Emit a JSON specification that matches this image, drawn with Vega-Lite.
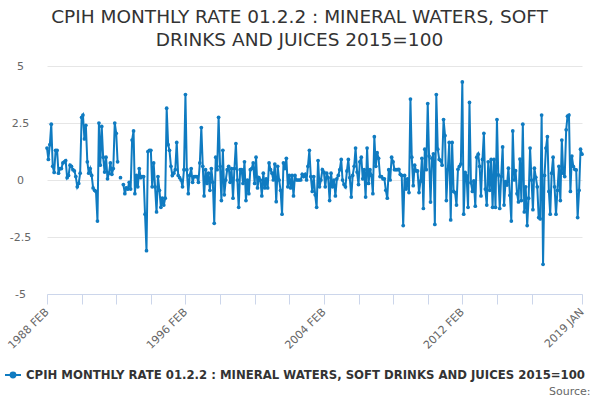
{
"$schema":"https://vega.github.io/schema/vega-lite/v6.json",
"width":535,"height":228,
"autosize":{"type":"none"},
"padding":{"left":47,"top":66,"right":18,"bottom":106},
"background":"white",
"title":{"text":["CPIH MONTHLY RATE 01.2.2 : MINERAL WATERS, SOFT","DRINKS AND JUICES 2015=100"],"font":"DejaVu Sans","fontSize":18.5,"fontWeight":"normal","color":"#333333","lineHeight":23,"anchor":"middle","frame":"group","dx":-15,"offset":11},
"config":{"view":{"stroke":null},"font":"DejaVu Sans"},
"data":{"values":[
{"date":"1988-02-01","value":1.4},{"date":"1988-03-01","value":0.9},{"date":"1988-04-01","value":1.55},{"date":"1988-05-01","value":2.45},{"date":"1988-06-01","value":0.6},{"date":"1988-07-01","value":0.33},{"date":"1988-08-01","value":1.3},{"date":"1988-09-01","value":1.3},{"date":"1988-10-01","value":0.3},{"date":"1988-11-01","value":0.5},{"date":"1988-12-01","value":0.5},
{"date":"1989-01-01","value":0.75},{"date":"1989-02-01","value":0.8},{"date":"1989-03-01","value":0.85},{"date":"1989-04-01","value":0.1},{"date":"1989-05-01","value":0.2},{"date":"1989-06-01","value":0.65},{"date":"1989-07-01","value":0.6},{"date":"1989-08-01","value":0.45},{"date":"1989-09-01","value":0.4},{"date":"1989-10-01","value":0.15},{"date":"1989-11-01","value":-0.3},{"date":"1989-12-01","value":-0.15},
{"date":"1990-01-01","value":0.3},{"date":"1990-02-01","value":2.75},{"date":"1990-03-01","value":2.85},{"date":"1990-04-01","value":1.8},{"date":"1990-05-01","value":2.4},{"date":"1990-06-01","value":0.8},{"date":"1990-07-01","value":0.3},{"date":"1990-08-01","value":0.5},{"date":"1990-09-01","value":0.2},{"date":"1990-10-01","value":-0.35},{"date":"1990-11-01","value":-0.45},{"date":"1990-12-01","value":-0.5},
{"date":"1991-01-01","value":-1.8},{"date":"1991-02-01","value":2.5},{"date":"1991-03-01","value":0.65},{"date":"1991-04-01","value":2.35},{"date":"1991-05-01","value":1.0},{"date":"1991-06-01","value":0.35},{"date":"1991-07-01","value":1.0},{"date":"1991-08-01","value":0.05},{"date":"1991-09-01","value":0.3},{"date":"1991-10-01","value":0.75},{"date":"1991-11-01","value":0.25},{"date":"1991-12-01","value":0.5},
{"date":"1992-01-01","value":2.5},{"date":"1992-02-01","value":2.05},{"date":"1992-03-01","value":0.8},{"date":"1992-04-01","value":null},{"date":"1992-05-01","value":0.1},{"date":"1992-06-01","value":null},{"date":"1992-07-01","value":-0.2},{"date":"1992-08-01","value":-0.6},{"date":"1992-09-01","value":-0.35},{"date":"1992-10-01","value":-0.4},{"date":"1992-11-01","value":-0.1},{"date":"1992-12-01","value":-0.4},
{"date":"1993-01-01","value":1.75},{"date":"1993-02-01","value":2.15},{"date":"1993-03-01","value":-0.6},{"date":"1993-04-01","value":0.2},{"date":"1993-05-01","value":-0.3},{"date":"1993-06-01","value":0.5},{"date":"1993-07-01","value":0.1},{"date":"1993-08-01","value":0.15},{"date":"1993-09-01","value":0.15},{"date":"1993-10-01","value":-1.5},{"date":"1993-11-01","value":-3.1},{"date":"1993-12-01","value":1.25},
{"date":"1994-01-01","value":1.3},{"date":"1994-02-01","value":1.3},{"date":"1994-03-01","value":-0.3},{"date":"1994-04-01","value":0.75},{"date":"1994-05-01","value":-0.3},{"date":"1994-06-01","value":-1.4},{"date":"1994-07-01","value":0.15},{"date":"1994-08-01","value":-0.45},{"date":"1994-09-01","value":-1.2},{"date":"1994-10-01","value":-0.8},{"date":"1994-11-01","value":-1.1},{"date":"1994-12-01","value":-0.8},
{"date":"1995-01-01","value":3.15},{"date":"1995-02-01","value":1.55},{"date":"1995-03-01","value":1.3},{"date":"1995-04-01","value":0.6},{"date":"1995-05-01","value":0.2},{"date":"1995-06-01","value":0.3},{"date":"1995-07-01","value":0.45},{"date":"1995-08-01","value":1.65},{"date":"1995-09-01","value":0.2},{"date":"1995-10-01","value":0.1},{"date":"1995-11-01","value":0.0},{"date":"1995-12-01","value":-0.3},
{"date":"1996-01-01","value":0.45},{"date":"1996-02-01","value":3.75},{"date":"1996-03-01","value":0.45},{"date":"1996-04-01","value":-0.6},{"date":"1996-05-01","value":0.2},{"date":"1996-06-01","value":0.5},{"date":"1996-07-01","value":-0.1},{"date":"1996-08-01","value":0.15},{"date":"1996-09-01","value":0.15},{"date":"1996-10-01","value":0.15},{"date":"1996-11-01","value":-0.1},{"date":"1996-12-01","value":0.75},
{"date":"1997-01-01","value":2.3},{"date":"1997-02-01","value":0.6},{"date":"1997-03-01","value":-0.7},{"date":"1997-04-01","value":0.45},{"date":"1997-05-01","value":-0.15},{"date":"1997-06-01","value":0.3},{"date":"1997-07-01","value":-0.45},{"date":"1997-08-01","value":0.5},{"date":"1997-09-01","value":-0.1},{"date":"1997-10-01","value":-1.9},{"date":"1997-11-01","value":1.0},{"date":"1997-12-01","value":0.45},
{"date":"1998-01-01","value":2.75},{"date":"1998-02-01","value":0.6},{"date":"1998-03-01","value":-0.9},{"date":"1998-04-01","value":1.3},{"date":"1998-05-01","value":-0.65},{"date":"1998-06-01","value":0},{"date":"1998-07-01","value":0.45},{"date":"1998-08-01","value":0.6},{"date":"1998-09-01","value":-0.1},{"date":"1998-10-01","value":0.5},{"date":"1998-11-01","value":-0.8},{"date":"1998-12-01","value":0.5},
{"date":"1999-01-01","value":1.6},{"date":"1999-02-01","value":0},{"date":"1999-03-01","value":-1.2},{"date":"1999-04-01","value":0.45},{"date":"1999-05-01","value":0.45},{"date":"1999-06-01","value":-0.15},{"date":"1999-07-01","value":0.8},{"date":"1999-08-01","value":-0.9},{"date":"1999-09-01","value":0},{"date":"1999-10-01","value":-0.6},{"date":"1999-11-01","value":0.45},{"date":"1999-12-01","value":0.5},
{"date":"2000-01-01","value":0.75},{"date":"2000-02-01","value":-0.15},{"date":"2000-03-01","value":1.0},{"date":"2000-04-01","value":-0.35},{"date":"2000-05-01","value":0.1},{"date":"2000-06-01","value":0},{"date":"2000-07-01","value":-0.7},{"date":"2000-08-01","value":0.3},{"date":"2000-09-01","value":-0.35},{"date":"2000-10-01","value":0.05},{"date":"2000-11-01","value":-0.35},{"date":"2000-12-01","value":0.75},
{"date":"2001-01-01","value":0.45},{"date":"2001-02-01","value":0.3},{"date":"2001-03-01","value":0},{"date":"2001-04-01","value":0.7},{"date":"2001-05-01","value":-0.95},{"date":"2001-06-01","value":0.6},{"date":"2001-07-01","value":0},{"date":"2001-08-01","value":-0.45},{"date":"2001-09-01","value":-1.5},{"date":"2001-10-01","value":0.75},{"date":"2001-11-01","value":0.5},{"date":"2001-12-01","value":0.95},
{"date":"2002-01-01","value":-0.3},{"date":"2002-02-01","value":0.2},{"date":"2002-03-01","value":-0.35},{"date":"2002-04-01","value":0.2},{"date":"2002-05-01","value":-0.7},{"date":"2002-06-01","value":0.2},{"date":"2002-07-01","value":0},{"date":"2002-08-01","value":0},{"date":"2002-09-01","value":0},{"date":"2002-10-01","value":0},{"date":"2002-11-01","value":0.25},{"date":"2002-12-01","value":0.15},
{"date":"2003-01-01","value":0.25},{"date":"2003-02-01","value":0},{"date":"2003-03-01","value":0.6},{"date":"2003-04-01","value":1.3},{"date":"2003-05-01","value":0.15},{"date":"2003-06-01","value":-0.5},{"date":"2003-07-01","value":0.15},{"date":"2003-08-01","value":-0.65},{"date":"2003-09-01","value":-1.2},{"date":"2003-10-01","value":0.85},{"date":"2003-11-01","value":-0.3},{"date":"2003-12-01","value":0},
{"date":"2004-01-01","value":0.45},{"date":"2004-02-01","value":0.35},{"date":"2004-03-01","value":-0.3},{"date":"2004-04-01","value":0.3},{"date":"2004-05-01","value":0.1},{"date":"2004-06-01","value":-0.9},{"date":"2004-07-01","value":0.3},{"date":"2004-08-01","value":-0.3},{"date":"2004-09-01","value":0},{"date":"2004-10-01","value":-0.7},{"date":"2004-11-01","value":0.05},{"date":"2004-12-01","value":0.2},
{"date":"2005-01-01","value":0.45},{"date":"2005-02-01","value":0.9},{"date":"2005-03-01","value":0},{"date":"2005-04-01","value":-0.2},{"date":"2005-05-01","value":-0.3},{"date":"2005-06-01","value":0.4},{"date":"2005-07-01","value":0.9},{"date":"2005-08-01","value":0.1},{"date":"2005-09-01","value":-0.75},{"date":"2005-10-01","value":0.2},{"date":"2005-11-01","value":0.6},{"date":"2005-12-01","value":1.4},
{"date":"2006-01-01","value":0.35},{"date":"2006-02-01","value":-0.2},{"date":"2006-03-01","value":0.8},{"date":"2006-04-01","value":1.0},{"date":"2006-05-01","value":0.05},{"date":"2006-06-01","value":0.45},{"date":"2006-07-01","value":-0.75},{"date":"2006-08-01","value":1.4},{"date":"2006-09-01","value":-0.15},{"date":"2006-10-01","value":0.45},{"date":"2006-11-01","value":0.2},{"date":"2006-12-01","value":-0.6},
{"date":"2007-01-01","value":1.9},{"date":"2007-02-01","value":0.6},{"date":"2007-03-01","value":1.2},{"date":"2007-04-01","value":0.95},{"date":"2007-05-01","value":0.15},{"date":"2007-06-01","value":0.15},{"date":"2007-07-01","value":0.05},{"date":"2007-08-01","value":0.05},{"date":"2007-09-01","value":-0.45},{"date":"2007-10-01","value":-0.8},{"date":"2007-11-01","value":0.45},{"date":"2007-12-01","value":0},
{"date":"2008-01-01","value":1.0},{"date":"2008-02-01","value":0.8},{"date":"2008-03-01","value":0.45},{"date":"2008-04-01","value":0.45},{"date":"2008-05-01","value":0.45},{"date":"2008-06-01","value":0.47},{"date":"2008-07-01","value":0.25},{"date":"2008-08-01","value":0.2},{"date":"2008-09-01","value":-2.0},{"date":"2008-10-01","value":0.2},{"date":"2008-11-01","value":-0.4},{"date":"2008-12-01","value":0.05},
{"date":"2009-01-01","value":-0.55},{"date":"2009-02-01","value":3.55},{"date":"2009-03-01","value":1.0},{"date":"2009-04-01","value":-0.25},{"date":"2009-05-01","value":0.65},{"date":"2009-06-01","value":0.4},{"date":"2009-07-01","value":0.4},{"date":"2009-08-01","value":-0.55},{"date":"2009-09-01","value":-0.05},{"date":"2009-10-01","value":0.95},{"date":"2009-11-01","value":-1.25},{"date":"2009-12-01","value":1.35},
{"date":"2010-01-01","value":0.45},{"date":"2010-02-01","value":3.35},{"date":"2010-03-01","value":1.05},{"date":"2010-04-01","value":-0.97},{"date":"2010-05-01","value":0.95},{"date":"2010-06-01","value":1.15},{"date":"2010-07-01","value":-1.95},{"date":"2010-08-01","value":3.75},{"date":"2010-09-01","value":1.35},{"date":"2010-10-01","value":0.9},{"date":"2010-11-01","value":0.85},{"date":"2010-12-01","value":0.65},
{"date":"2011-01-01","value":2.65},{"date":"2011-02-01","value":1.95},{"date":"2011-03-01","value":-0.9},{"date":"2011-04-01","value":0.47},{"date":"2011-05-01","value":1.65},{"date":"2011-06-01","value":-1.75},{"date":"2011-07-01","value":1.65},{"date":"2011-08-01","value":-0.5},{"date":"2011-09-01","value":-0.55},{"date":"2011-10-01","value":-1.1},{"date":"2011-11-01","value":0.47},{"date":"2011-12-01","value":0.6},
{"date":"2012-01-01","value":0.7},{"date":"2012-02-01","value":4.3},{"date":"2012-03-01","value":-1.5},{"date":"2012-04-01","value":0.33},{"date":"2012-05-01","value":0.18},{"date":"2012-06-01","value":-1.2},{"date":"2012-07-01","value":3.4},{"date":"2012-08-01","value":-0.12},{"date":"2012-09-01","value":-0.5},{"date":"2012-10-01","value":-0.04},{"date":"2012-11-01","value":-1.15},{"date":"2012-12-01","value":1.0},
{"date":"2013-01-01","value":1.13},{"date":"2013-02-01","value":0.6},{"date":"2013-03-01","value":-0.7},{"date":"2013-04-01","value":0.9},{"date":"2013-05-01","value":2.05},{"date":"2013-06-01","value":-0.4},{"date":"2013-07-01","value":-1.1},{"date":"2013-08-01","value":0.8},{"date":"2013-09-01","value":-0.45},{"date":"2013-10-01","value":0.9},{"date":"2013-11-01","value":-1.2},{"date":"2013-12-01","value":0.9},
{"date":"2014-01-01","value":-1.2},{"date":"2014-02-01","value":2.65},{"date":"2014-03-01","value":0.22},{"date":"2014-04-01","value":-1.25},{"date":"2014-05-01","value":0.15},{"date":"2014-06-01","value":1.45},{"date":"2014-07-01","value":-1.1},{"date":"2014-08-01","value":-0.07},{"date":"2014-09-01","value":-0.22},{"date":"2014-10-01","value":0.52},{"date":"2014-11-01","value":-0.67},{"date":"2014-12-01","value":-1.8},
{"date":"2015-01-01","value":2.15},{"date":"2015-02-01","value":0},{"date":"2015-03-01","value":0.41},{"date":"2015-04-01","value":-0.6},{"date":"2015-05-01","value":-0.96},{"date":"2015-06-01","value":0.92},{"date":"2015-07-01","value":-0.9},{"date":"2015-08-01","value":2.45},{"date":"2015-09-01","value":-1.4},{"date":"2015-10-01","value":-0.3},{"date":"2015-11-01","value":-2.0},{"date":"2015-12-01","value":-0.8},
{"date":"2016-01-01","value":1.4},{"date":"2016-02-01","value":0},{"date":"2016-03-01","value":-1.3},{"date":"2016-04-01","value":0.52},{"date":"2016-05-01","value":0.12},{"date":"2016-06-01","value":-0.3},{"date":"2016-07-01","value":-1.65},{"date":"2016-08-01","value":-1.7},{"date":"2016-09-01","value":2.85},{"date":"2016-10-01","value":-3.7},{"date":"2016-11-01","value":0.2},{"date":"2016-12-01","value":1.4},
{"date":"2017-01-01","value":1.9},{"date":"2017-02-01","value":-0.5},{"date":"2017-03-01","value":-1.5},{"date":"2017-04-01","value":0.3},{"date":"2017-05-01","value":1.0},{"date":"2017-06-01","value":-0.3},{"date":"2017-07-01","value":-1.5},{"date":"2017-08-01","value":-0.45},{"date":"2017-09-01","value":0.6},{"date":"2017-10-01","value":-0.9},{"date":"2017-11-01","value":1.75},{"date":"2017-12-01","value":0.3},
{"date":"2018-01-01","value":0.15},{"date":"2018-02-01","value":2.2},{"date":"2018-03-01","value":2.8},{"date":"2018-04-01","value":2.85},{"date":"2018-05-01","value":-0.5},{"date":"2018-06-01","value":1.05},{"date":"2018-07-01","value":0.6},{"date":"2018-08-01","value":0.47},{"date":"2018-09-01","value":0.44},{"date":"2018-10-01","value":-1.65},{"date":"2018-11-01","value":-0.45},{"date":"2018-12-01","value":1.35},
{"date":"2019-01-01","value":1.13}
]},
"mark":{"type":"line","strokeWidth":2,"invalid":"break-paths-show-domains","point":{"filled":true,"size":14}},
"encoding":{
"x":{"field":"date","type":"temporal","scale":{"type":"utc","domain":[{"year":1988,"month":2,"date":1,"utc":true},{"year":2019,"month":1,"date":1,"utc":true}]},
"axis":{"values":[{"year":1988,"month":2,"date":1,"utc":true},{"year":1990,"month":2,"date":1,"utc":true},{"year":1992,"month":2,"date":1,"utc":true},{"year":1994,"month":2,"date":1,"utc":true},{"year":1996,"month":2,"date":1,"utc":true},{"year":1998,"month":2,"date":1,"utc":true},{"year":2000,"month":2,"date":1,"utc":true},{"year":2002,"month":2,"date":1,"utc":true},{"year":2004,"month":2,"date":1,"utc":true},{"year":2006,"month":2,"date":1,"utc":true},{"year":2008,"month":2,"date":1,"utc":true},{"year":2010,"month":2,"date":1,"utc":true},{"year":2012,"month":2,"date":1,"utc":true},{"year":2014,"month":2,"date":1,"utc":true},{"year":2016,"month":2,"date":1,"utc":true},{"year":2019,"month":1,"date":1,"utc":true}],
"labelExpr":"indexof([1988,1996,2004,2012,2019], utcyear(datum.value)) >= 0 ? upper(utcFormat(datum.value, '%Y %b')) : ''",
"labelAngle":-45,"labelAlign":"right","labelBaseline":"middle","labelPadding":6,"labelOverlap":false,"labelFlush":false,"labelBound":false,
"labelFont":"DejaVu Sans","labelFontSize":11,"labelColor":"#666666",
"domainColor":"#ccd6eb","tickColor":"#ccd6eb","tickSize":10,"grid":false,
"title":"Source:","titleAnchor":"end","titleAlign":"right","titleBaseline":"middle","titleX":543,"titleY":97,"titleFont":"DejaVu Sans","titleFontSize":11,"titleFontWeight":"normal","titleColor":"#666666"}},
"y":{"field":"value","type":"quantitative","scale":{"domain":[-5,5],"nice":false,"zero":false},
"axis":{"values":[-5,-2.5,0,2.5,5],"labelExpr":"datum.value + ''","domain":false,"ticks":false,"gridColor":"#e6e6e6","labelAlign":"center","labelPadding":27,"labelFont":"DejaVu Sans","labelFontSize":11,"labelColor":"#666666","title":null}},
"color":{"datum":"CPIH MONTHLY RATE 01.2.2 : MINERAL WATERS, SOFT DRINKS AND JUICES 2015=100","scale":{"range":["#0f7bc1"]},
"legend":{"orient":"none","legendX":-43,"legendY":300,"title":null,"labelFont":"DejaVu Sans","labelFontSize":11.7,"labelFontWeight":"bold","labelColor":"#333333","labelLimit":700,"labelOffset":4,"symbolType":"M-1,0L1,0M-0.3,0A0.3,0.3 0 1,1 0.3,0A0.3,0.3 0 1,1 -0.3,0","symbolSize":256,"symbolStrokeWidth":2,"symbolStrokeColor":"#0f7bc1","symbolFillColor":"#0f7bc1"}}
}
}
